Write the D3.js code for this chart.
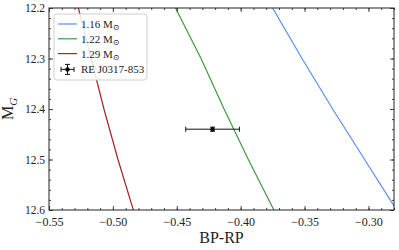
<!DOCTYPE html>
<html>
<head>
<meta charset="utf-8">
<script src="https://cdn.jsdelivr.net/npm/d3@7"></script>
<style>
  body { margin: 0; background: #fff; }
  svg text { font-family: "Liberation Serif", "DejaVu Serif", serif; fill: #222; }
</style>
</head>
<body>
<div id="chart"></div>
<script>
// track magnitudes (M_G) where each cooling track is sampled
var mgSamples = [12.2, 12.3, 12.4, 12.5, 12.6];
// BP-RP colour of each track at those magnitudes
var track116 = [-0.375, -0.352, -0.328, -0.303, -0.278];
var track122 = [-0.451, -0.431, -0.413, -0.394, -0.374];
var track129 = [-0.527, -0.517, -0.507, -0.496, -0.484];
var trackNames = ["1.16", "1.22", "1.29"];
var trackColors = ["#5b8def", "#3c9d3c", "#a02424"];

// the observed star
var starName = "RE J0317-853";
var starBP = [-0.422], starBPerr = [0.021];
var starMG = [12.44], starMGerr = [0.004];

var xTicks = [-0.55, -0.50, -0.45, -0.40, -0.35, -0.30];
var yTicks = [12.2, 12.3, 12.4, 12.5, 12.6];

onload = function () {
  var margin = {top: 8, right: 5, bottom: 40, left: 49};
  var width = 399 - margin.left - margin.right;
  var height = 250 - margin.top - margin.bottom;

  var x = d3.scaleLinear().domain([-0.55, -0.28]).range([0, width]);
  var y = d3.scaleLinear().domain([12.2, 12.6]).range([0, height]);

  var svg = d3.select("#chart").append("svg")
    .attr("width", 399)
    .attr("height", 250)
  .append("g")
    .attr("transform", "translate(" + margin.left + "," + margin.top + ")");

  svg.append("clipPath").attr("id", "clip")
    .append("rect").attr("width", width).attr("height", height);

  // tracks
  var tracks = [track116, track122, track129];
  var line = d3.line()
    .x(function (d) { return x(d[0]); })
    .y(function (d) { return y(d[1]); });

  svg.append("g").attr("clip-path", "url(#clip)")
    .selectAll("path")
    .data(tracks)
    .enter().append("path")
    .attr("fill", "none")
    .attr("stroke", function (d, i) { return trackColors[i]; })
    .attr("stroke-width", 1.2)
    .attr("d", function (d) {
      return line(d.map(function (v, j) { return [v, mgSamples[j]]; }));
    });

  // error bar for the star
  var star = svg.append("g").attr("stroke", "#111").attr("stroke-width", 1);
  starBP.forEach(function (bp, i) {
    var cx = x(bp), cy = y(starMG[i]);
    var x0 = x(bp - starBPerr[i]), x1 = x(bp + starBPerr[i]);
    var y0 = y(starMG[i] - starMGerr[i]), y1 = y(starMG[i] + starMGerr[i]);
    star.append("line").attr("x1", x0).attr("x2", x1).attr("y1", cy).attr("y2", cy);
    star.append("line").attr("x1", x0).attr("x2", x0).attr("y1", cy - 2.5).attr("y2", cy + 2.5);
    star.append("line").attr("x1", x1).attr("x2", x1).attr("y1", cy - 2.5).attr("y2", cy + 2.5);
    star.append("line").attr("x1", cx).attr("x2", cx).attr("y1", y0).attr("y2", y1);
    star.append("line").attr("x1", cx - 2.5).attr("x2", cx + 2.5).attr("y1", y0).attr("y2", y0);
    star.append("line").attr("x1", cx - 2.5).attr("x2", cx + 2.5).attr("y1", y1).attr("y2", y1);
    star.append("circle").attr("cx", cx).attr("cy", cy).attr("r", 2.2)
      .attr("fill", "#000").attr("stroke", "none");
  });

  // axes, ticks pointing in, on all four sides
  var fmt = d3.format(".2f");
  var minorX = d3.range(-0.55, -0.279, 0.01);
  var minorY = d3.range(12.2, 12.601, 0.02);

  function tickStyle(size) {
    return function (g) {
      g.select(".domain").remove();
      g.selectAll(".tick line").attr("stroke", "#444");
      g.selectAll(".tick text").style("font-size", size + "px");
    };
  }

  svg.append("g").attr("transform", "translate(0," + height + ")")
    .call(d3.axisBottom(x).tickValues(xTicks).tickFormat(fmt).tickSizeInner(-4).tickPadding(7))
    .call(tickStyle(12));
  svg.append("g").attr("transform", "translate(0," + height + ")")
    .call(d3.axisBottom(x).tickValues(minorX).tickFormat("").tickSizeInner(-2).tickSizeOuter(0))
    .call(tickStyle(12));
  svg.append("g")
    .call(d3.axisTop(x).tickValues(xTicks).tickFormat("").tickSizeInner(-4).tickSizeOuter(0))
    .call(tickStyle(12));
  svg.append("g")
    .call(d3.axisTop(x).tickValues(minorX).tickFormat("").tickSizeInner(-2).tickSizeOuter(0))
    .call(tickStyle(12));

  svg.append("g")
    .call(d3.axisLeft(y).tickValues(yTicks).tickFormat(d3.format(".1f")).tickSizeInner(-4).tickPadding(4))
    .call(tickStyle(11.5));
  svg.append("g")
    .call(d3.axisLeft(y).tickValues(minorY).tickFormat("").tickSizeInner(-2).tickSizeOuter(0))
    .call(tickStyle(11.5));
  svg.append("g").attr("transform", "translate(" + width + ",0)")
    .call(d3.axisRight(y).tickValues(yTicks).tickFormat("").tickSizeInner(-4).tickSizeOuter(0))
    .call(tickStyle(11.5));
  svg.append("g").attr("transform", "translate(" + width + ",0)")
    .call(d3.axisRight(y).tickValues(minorY).tickFormat("").tickSizeInner(-2).tickSizeOuter(0))
    .call(tickStyle(11.5));

  svg.append("rect")
    .attr("width", width).attr("height", height)
    .attr("fill", "none").attr("stroke", "#222").attr("stroke-width", 1);

  // axis labels
  svg.append("text")
    .attr("x", width / 2).attr("y", height + 33)
    .attr("text-anchor", "middle")
    .style("font-size", "16px")
    .text("BP-RP");

  var yl = svg.append("text")
    .attr("transform", "translate(-36," + (height / 2) + ") rotate(-90)")
    .attr("text-anchor", "middle")
    .style("font-size", "16px");
  yl.append("tspan").text("M");
  yl.append("tspan").attr("dy", 4).style("font-size", "11px").style("font-style", "italic").text("G");

  // legend
  var legend = svg.append("g").attr("transform", "translate(5,6)");
  legend.append("rect")
    .attr("width", 93).attr("height", 66).attr("rx", 3)
    .attr("fill", "#fff").attr("fill-opacity", 0.85)
    .attr("stroke", "#d0d0d0").attr("stroke-width", 1);

  trackNames.forEach(function (name, i) {
    var ry = 10 + i * 14.8;
    legend.append("line")
      .attr("x1", 4).attr("x2", 23).attr("y1", ry).attr("y2", ry)
      .attr("stroke", trackColors[i]).attr("stroke-width", 1.2);
    var t = legend.append("text").attr("x", 27).attr("y", ry + 4).style("font-size", "11px");
    t.append("tspan").text(name + " M");
    t.append("tspan").attr("dy", 2).style("font-size", "8px").text("\u2299");
  });

  var ey = 10 + 3 * 14.8 + 1;
  var em = legend.append("g").attr("stroke", "#111").attr("stroke-width", 1);
  em.append("line").attr("x1", 7).attr("x2", 20).attr("y1", ey).attr("y2", ey);
  em.append("line").attr("x1", 13.5).attr("x2", 13.5).attr("y1", ey - 5).attr("y2", ey + 5);
  em.append("line").attr("x1", 11).attr("x2", 16).attr("y1", ey - 5).attr("y2", ey - 5);
  em.append("line").attr("x1", 11).attr("x2", 16).attr("y1", ey + 5).attr("y2", ey + 5);
  em.append("line").attr("x1", 7).attr("x2", 7).attr("y1", ey - 2.5).attr("y2", ey + 2.5);
  em.append("line").attr("x1", 20).attr("x2", 20).attr("y1", ey - 2.5).attr("y2", ey + 2.5);
  em.append("circle").attr("cx", 13.5).attr("cy", ey).attr("r", 2.2).attr("fill", "#000").attr("stroke", "none");
  legend.append("text").attr("x", 27).attr("y", ey + 4).style("font-size", "11px").text(starName);
};
</script>
</body>
</html>
